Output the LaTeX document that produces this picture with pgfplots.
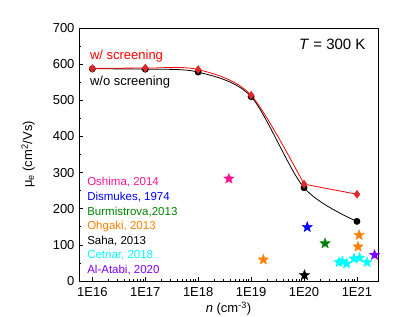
\documentclass[border=0pt]{standalone}
\usepackage{pgfplots}
\pgfplotsset{compat=1.18}
\usepackage{fontspec}
\setmainfont{Liberation Sans}
\definecolor{cpink}{HTML}{FF1493}
\definecolor{cblue}{HTML}{0000FF}
\definecolor{cgreen}{HTML}{008000}
\definecolor{corange}{HTML}{FF8000}
\definecolor{ccyan}{HTML}{00FFFF}
\definecolor{cpurple}{HTML}{8000FF}
\definecolor{cred}{HTML}{FF0000}
\definecolor{cmark}{HTML}{E02828}
\pgfdeclareplotmark{fstar}{%
  \pgfpathmoveto{\pgfpointpolar{90}{\pgfplotmarksize}}%
  \pgfpathlineto{\pgfpointpolar{126}{0.42\pgfplotmarksize}}%
  \pgfpathlineto{\pgfpointpolar{162}{\pgfplotmarksize}}%
  \pgfpathlineto{\pgfpointpolar{198}{0.42\pgfplotmarksize}}%
  \pgfpathlineto{\pgfpointpolar{234}{\pgfplotmarksize}}%
  \pgfpathlineto{\pgfpointpolar{270}{0.42\pgfplotmarksize}}%
  \pgfpathlineto{\pgfpointpolar{306}{\pgfplotmarksize}}%
  \pgfpathlineto{\pgfpointpolar{342}{0.42\pgfplotmarksize}}%
  \pgfpathlineto{\pgfpointpolar{18}{\pgfplotmarksize}}%
  \pgfpathlineto{\pgfpointpolar{54}{0.42\pgfplotmarksize}}%
  \pgfpathclose
  \pgfusepathqfillstroke}
\begin{document}
\begin{tikzpicture}
\begin{axis}[
  name=ax,
  scale only axis, width=299pt, height=253pt,
  xmode=log, xmin=5.6e15, xmax=2.5e21,
  ymin=0, ymax=700,
  ytick={0,100,...,700}, minor y tick num=1,
  xtick={1e16,1e17,1e18,1e19,1e20,1e21},
  xticklabels={1E16,1E17,1E18,1E19,1E20,1E21},
  tick align=inside, xtick pos=bottom, ytick pos=left,
  major tick length=4pt, minor tick length=2pt,
  tick style={black, line width=0.6pt},
  axis line style={line width=0.7pt},
  /pgf/number format/assume math mode=true,
  ticklabel style={font=\fontsize{13}{15}\selectfont},
  xticklabel style={yshift=-3pt},
  yticklabel style={xshift=-1pt},
  xlabel={\textit{n} (cm\textsuperscript{-3})},
  ylabel={μ\textsubscript{e} (cm\textsuperscript{2}/Vs)},
  label style={font=\fontsize{13}{15}\selectfont},
  xlabel style={at={(axis description cs:0.5,-0.11)}, anchor=center},
  ylabel style={at={(axis description cs:-0.17,0.5)}, anchor=center},
  clip=false,
  star/.style={only marks, mark=fstar, mark size=5.5pt, color=#1, mark options={fill=#1, line width=0.3pt}},
]
% w/o screening (black)
\addplot[black, line width=0.8pt, smooth, tension=0.5, mark=*, mark size=3pt, mark options={solid}]
  coordinates {(1e16,587) (1e17,586) (1e18,578) (1e19,510) (1e20,258) (1e21,165)};
% w/ screening (red)
\addplot[cred, line width=0.8pt, smooth, tension=0.5, no marks]
  coordinates {(1e16,588) (1e17,589) (1e18,585) (1e19,514) (1e20,268)};
\addplot[cred, line width=0.8pt, no marks]
  coordinates {(1e20,268) (1e21,240)};
\addplot[only marks, mark=diamond*, mark size=4pt, color=cmark]
  coordinates {(1e16,588) (1e17,589) (1e18,585) (1e19,514) (1e20,268) (1e21,240)};
% experimental data
\addplot[star=cpink] coordinates {(3.8e18,283)};
\addplot[star=cblue] coordinates {(1.15e20,149)};
\addplot[star=cgreen] coordinates {(2.5e20,104)};
\addplot[star=corange] coordinates {(1.7e19,59) (1.1e21,127) (1.05e21,95)};
\addplot[star=black] coordinates {(1.02e20,16)};
\addplot[star=ccyan] coordinates {(4.6e20,52) (5.3e20,54) (6.4e20,48) (8.8e20,62) (1.12e21,64) (1.55e21,52)};
\addplot[star=cpurple] coordinates {(2.15e21,72)};
% annotations
\node[anchor=east, font=\fontsize{15}{17}\selectfont] at (axis description cs:0.97,0.937) {\textit{T} = 300 K};
\node[anchor=west, text=cred, font=\fontsize{13}{15}\selectfont] at (axis description cs:0.025,0.889) {w/ screening};
\node[anchor=west, font=\fontsize{13}{15}\selectfont] at (axis description cs:0.025,0.787) {w/o screening};
\begin{scope}[every node/.style={anchor=west, font=\fontsize{11.5}{13}\selectfont, inner sep=0pt}]
\node[text=cpink] at (axis description cs:0.027,0.390) {Oshima, 2014};
\node[text=cblue] at (axis description cs:0.027,0.331) {Dismukes, 1974};
\node[text=cgreen] at (axis description cs:0.027,0.274) {Burmistrova,2013};
\node[text=corange] at (axis description cs:0.027,0.215) {Ohgaki, 2013};
\node[text=black] at (axis description cs:0.027,0.159) {Saha, 2013};
\node[text=ccyan] at (axis description cs:0.027,0.100) {Cetnar, 2018};
\node[text=cpurple] at (axis description cs:0.027,0.045) {Al-Atabi, 2020};
\end{scope}
\end{axis}
\pgfresetboundingbox
\path[use as bounding box] ([xshift=-79pt,yshift=-36pt]ax.south west) rectangle ([xshift=37pt,yshift=28pt]ax.north east);
\end{tikzpicture}
\end{document}
